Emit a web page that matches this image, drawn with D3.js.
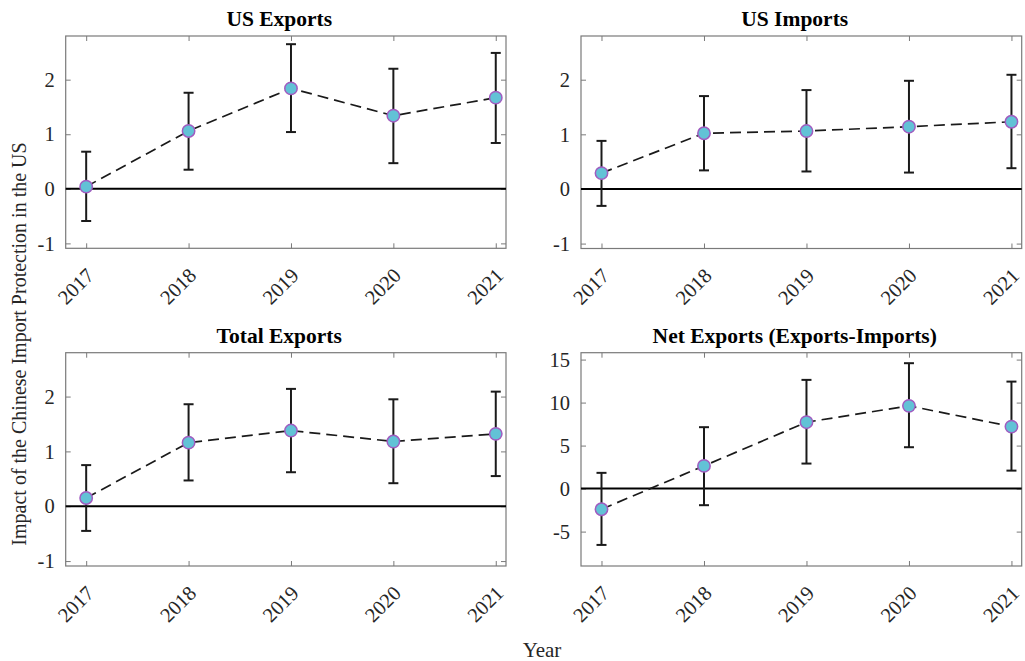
<!DOCTYPE html>
<html>
<head>
<meta charset="utf-8">
<script src="https://cdn.jsdelivr.net/npm/d3@7"></script>
<style>
  html, body { margin: 0; padding: 0; background: #ffffff; }
  svg { display: block; }
  text { font-family: "Liberation Serif", "Times New Roman", serif; }
</style>
</head>
<body>
<svg id="chart" width="1025" height="661"></svg>
<script>
// ---- data ----
const years = [2017, 2018, 2019, 2020, 2021];
const titles = ["US Exports", "US Imports", "Total Exports", "Net Exports (Exports-Imports)"];

const usExports     = [0.04, 1.06, 1.84, 1.34, 1.67];
const usExportsLo   = [-0.59, 0.35, 1.04, 0.47, 0.84];
const usExportsHi   = [0.68, 1.76, 2.65, 2.20, 2.49];

const usImports     = [0.29, 1.02, 1.06, 1.14, 1.23];
const usImportsLo   = [-0.31, 0.34, 0.32, 0.30, 0.38];
const usImportsHi   = [0.88, 1.70, 1.81, 1.98, 2.09];

const totalExports   = [0.15, 1.16, 1.38, 1.18, 1.32];
const totalExportsLo = [-0.45, 0.47, 0.62, 0.42, 0.55];
const totalExportsHi = [0.75, 1.86, 2.14, 1.95, 2.09];

const netExports   = [-2.40, 2.64, 7.72, 9.62, 7.21];
const netExportsLo = [-6.55, -1.93, 2.91, 4.81, 2.09];
const netExportsHi = [1.83, 7.14, 12.64, 14.58, 12.44];

const smallTicks = [-1, 0, 1, 2];
const netTicks = [-5, 0, 5, 10, 15];

const yLabel = "Impact of the Chinese Import Protection in the US";
const xLabel = "Year";

// ---- layout ----
const frames = [
  { x: 65.7, y: 36,    w: 440.3, h: 212.3, ydom: [-1.09, 2.8], ticks: smallTicks, mean: usExports,    lo: usExportsLo,    hi: usExportsHi },
  { x: 581,  y: 36,    w: 440.7, h: 212.5, ydom: [-1.09, 2.8], ticks: smallTicks, mean: usImports,    lo: usImportsLo,    hi: usImportsHi },
  { x: 65.7, y: 352.7, w: 440.3, h: 213.3, ydom: [-1.09, 2.8], ticks: smallTicks, mean: totalExports, lo: totalExportsLo, hi: totalExportsHi },
  { x: 581,  y: 352.7, w: 440.7, h: 213.3, ydom: [-9, 15.8],   ticks: netTicks,   mean: netExports,   lo: netExportsLo,   hi: netExportsHi }
];

const boxColor = "#7a7a7a";
const textColor = "#262626";
const fillColor = "#62c2d6";
const edgeColor = "#a05cc0";

const svg = d3.select("#chart");

frames.forEach((f, i) => {
  const g = svg.append("g").attr("transform", `translate(${f.x},${f.y})`);
  const x = d3.scaleLinear().domain([2016.8, 2021.1]).range([0, f.w]);
  const y = d3.scaleLinear().domain(f.ydom).range([f.h, 0]);

  // axes (ticks pointing inward on all four sides)
  const axB = d3.axisBottom(x).tickValues(years).tickSize(-5).tickFormat("");
  const axT = d3.axisTop(x).tickValues(years).tickSize(-5).tickFormat("");
  const axL = d3.axisLeft(y).tickValues(f.ticks).tickSize(-5).tickFormat("");
  const axR = d3.axisRight(y).tickValues(f.ticks).tickSize(-5).tickFormat("");
  [[axB, `translate(0,${f.h})`], [axT, "translate(0,0)"], [axL, "translate(0,0)"], [axR, `translate(${f.w},0)`]]
    .forEach(([ax, tr]) => {
      const a = g.append("g").attr("transform", tr).call(ax);
      a.select(".domain").remove();
      a.selectAll(".tick line").attr("stroke", boxColor).attr("stroke-width", 1);
    });

  // frame
  g.append("rect").attr("x", 0).attr("y", 0).attr("width", f.w).attr("height", f.h)
    .attr("fill", "none").attr("stroke", boxColor).attr("stroke-width", 1.2);

  // y tick labels
  g.selectAll(".ylab").data(f.ticks).enter().append("text")
    .attr("x", -11).attr("y", d => y(d)).attr("dy", "0.35em")
    .attr("text-anchor", "end").attr("font-size", 20.5).attr("fill", textColor)
    .text(d => d);

  // x tick labels, rotated
  g.selectAll(".xlab").data(years).enter().append("text")
    .attr("transform", d => `translate(${x(d) + 9},${f.h + 28.5}) rotate(-45)`)
    .attr("text-anchor", "end").attr("font-size", 20.5).attr("fill", textColor)
    .text(d => d);

  // title
  svg.append("text")
    .attr("x", f.x + f.w * 0.485).attr("y", f.y - 10)
    .attr("text-anchor", "middle").attr("font-size", 21.5).attr("font-weight", "bold")
    .attr("fill", "#000").text(titles[i]);

  // zero reference line
  g.append("line").attr("x1", 0).attr("x2", f.w).attr("y1", y(0)).attr("y2", y(0))
    .attr("stroke", "#000").attr("stroke-width", 2);

  const pts = years.map((yr, k) => ({ yr, m: f.mean[k], lo: f.lo[k], hi: f.hi[k] }));

  // error bars
  const eb = g.selectAll(".eb").data(pts).enter().append("g");
  eb.append("line").attr("x1", d => x(d.yr)).attr("x2", d => x(d.yr))
    .attr("y1", d => y(d.lo)).attr("y2", d => y(d.hi))
    .attr("stroke", "#1a1a1a").attr("stroke-width", 2);
  eb.append("line").attr("x1", d => x(d.yr) - 5).attr("x2", d => x(d.yr) + 5)
    .attr("y1", d => y(d.lo)).attr("y2", d => y(d.lo))
    .attr("stroke", "#1a1a1a").attr("stroke-width", 2);
  eb.append("line").attr("x1", d => x(d.yr) - 5).attr("x2", d => x(d.yr) + 5)
    .attr("y1", d => y(d.hi)).attr("y2", d => y(d.hi))
    .attr("stroke", "#1a1a1a").attr("stroke-width", 2);

  // dashed connecting line
  g.append("path").datum(pts)
    .attr("d", d3.line().x(d => x(d.yr)).y(d => y(d.m)))
    .attr("fill", "none").attr("stroke", "#1a1a1a").attr("stroke-width", 1.7)
    .attr("stroke-dasharray", "11,6");

  // markers
  g.selectAll(".mk").data(pts).enter().append("circle")
    .attr("cx", d => x(d.yr)).attr("cy", d => y(d.m)).attr("r", 6.2)
    .attr("fill", fillColor).attr("stroke", edgeColor).attr("stroke-width", 1.5);
});

// shared axis labels
svg.append("text")
  .attr("transform", "translate(26,344) rotate(-90)")
  .attr("text-anchor", "middle").attr("font-size", 20).attr("fill", textColor)
  .text(yLabel);

svg.append("text")
  .attr("x", 542).attr("y", 657)
  .attr("text-anchor", "middle").attr("font-size", 21).attr("fill", textColor)
  .text(xLabel);
</script>
</body>
</html>
